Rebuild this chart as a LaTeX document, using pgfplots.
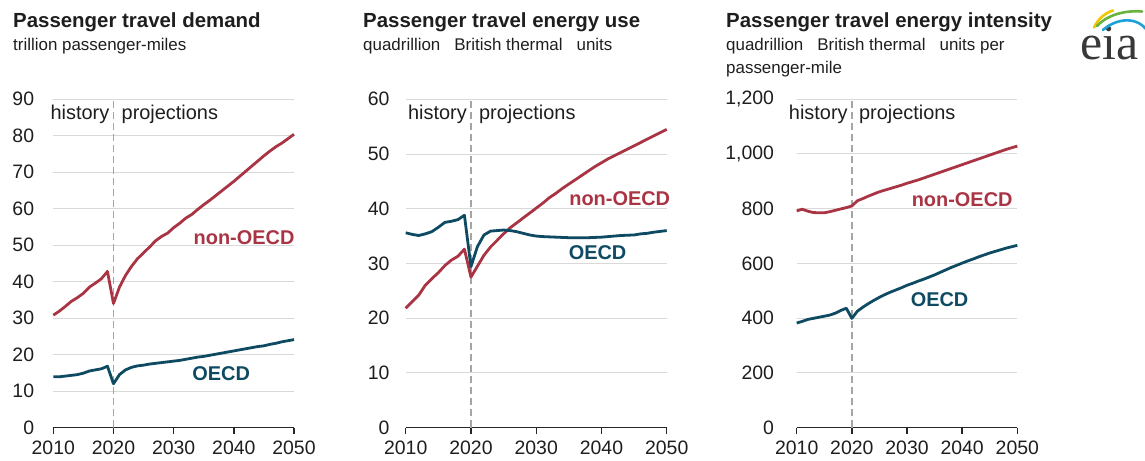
\documentclass[border=0pt]{standalone}
\usepackage{fontspec}
\setmainfont{Liberation Sans}
\newfontfamily\eiaserif{Liberation Serif}
\usepackage{pgfplots}
\pgfplotsset{compat=1.18}
\definecolor{eiared}{RGB}{169,52,68}
\definecolor{eiablue}{RGB}{14,75,98}
\definecolor{txt}{RGB}{30,30,30}
\definecolor{dashgray}{RGB}{165,165,165}
\definecolor{gridgray}{RGB}{217,217,217}

\pgfplotsset{
  eia/.style={
    scale only axis, height=328.2bp, anchor=south west,
    xmin=2010, xmax=2050, ymin=0,
    xtick={2010,2020,2030,2040,2050},
    xticklabels={2010,2020,2030,2040,2050},
    axis x line=bottom, axis y line=left,
    x axis line style={-, line width=1.4bp, draw=black!85},
    y axis line style={draw=none},
    xtick align=outside, major tick length=6bp,
    xtick style={line width=1.4bp, draw=black!85},
    ytick style={draw=none},
    ymajorgrids, grid style={line width=1bp, draw=gridgray},
    ticklabel style={font=\fontsize{19.5}{21}\selectfont, text=txt},
    xticklabel style={inner sep=0pt, anchor=north, yshift=-7bp},
    clip=false,
  },
}
\tikzset{
  redl/.style={eiared, line width=2.8bp, line join=round},
  bluel/.style={eiablue, line width=2.8bp, line join=round},
  divider/.style={dashgray, line width=1.4bp, dash pattern=on 7bp off 4bp},
  hist/.style={font=\fontsize{20}{22}\selectfont, text=txt, inner sep=0pt},
  lab/.style={font=\fontsize{20}{22}\selectfont\bfseries, inner sep=0pt},
  ttl/.style={font=\fontsize{20.5}{24}\selectfont\bfseries, text=txt, inner sep=0pt, anchor=base west},
  sub/.style={font=\fontsize{17}{20}\selectfont, text=txt, inner sep=0pt, anchor=base west},
}

\begin{document}
\begin{tikzpicture}
\path[use as bounding box] (0bp,0bp) rectangle (1145bp,461bp);

% titles
\node[ttl] at (13bp,433.3bp) {Passenger travel demand};
\node[sub] at (13bp,410bp) {trillion passenger-miles};
\node[ttl] at (363bp,433.3bp) {Passenger travel energy use};
\node[sub] at (363bp,410bp) {quadrillion\hspace{0.55em} British thermal\hspace{0.55em} units};
\node[ttl] at (726bp,433.3bp) {Passenger travel energy intensity};
\node[sub] at (726bp,410bp) {quadrillion\hspace{0.55em} British thermal\hspace{0.55em} units per};
\node[sub] at (726bp,387bp) {passenger-mile};

% logo
\node[anchor=base west, inner sep=0pt, text=black!78] at (1080bp,401bp) {\eiaserif\fontsize{50}{50}\selectfont eia};
\draw[color={rgb,255:red,242;green,197;blue,0}, line width=2.6bp, line cap=round] (1094bp,433.5bp) .. controls (1098bp,442bp) and (1105bp,448bp) .. (1113bp,450.5bp);
\draw[color={rgb,255:red,104;green,178;blue,62}, line width=2.6bp, line cap=round] (1097bp,435bp) .. controls (1106bp,445bp) and (1123bp,451bp) .. (1142bp,449.5bp);
\draw[color={rgb,255:red,29;green,161;blue,217}, line width=2.6bp, line cap=round] (1103bp,431bp) .. controls (1114bp,441bp) and (1134bp,446bp) .. (1146bp,432bp);

% ---------- Panel 1 ----------
\begin{axis}[eia, at={(53.3bp,33.5bp)}, width=240.7bp,
  ymax=90, ytick={0,10,...,90},
  yticklabels={0,10,20,30,40,50,60,70,80,90},
  yticklabel style={inner sep=0pt, anchor=east, xshift=-16bp}]
\addplot[divider] coordinates {(2020,0) (2020,90)};
\addplot[redl, no marks] coordinates {
(2010,30.8)(2011,31.9)(2012,33.2)(2013,34.6)(2014,35.6)(2015,36.8)(2016,38.5)(2017,39.6)(2018,40.8)(2019,42.8)
(2020,34.0)(2021,38.5)(2022,41.7)(2023,44.2)(2024,46.3)(2025,47.9)(2026,49.5)(2027,51.2)(2028,52.4)(2029,53.3)
(2030,54.8)(2031,56.0)(2032,57.4)(2033,58.4)(2034,59.8)(2035,61.1)(2036,62.3)(2037,63.6)(2038,64.9)(2039,66.2)
(2040,67.5)(2041,68.9)(2042,70.3)(2043,71.7)(2044,73.1)(2045,74.5)(2046,75.8)(2047,77.0)(2048,78.0)(2049,79.2)(2050,80.4)};
\addplot[bluel, no marks] coordinates {
(2010,13.9)(2011,13.9)(2012,14.1)(2013,14.3)(2014,14.5)(2015,14.9)(2016,15.5)(2017,15.8)(2018,16.1)(2019,16.8)
(2020,12.0)(2021,14.5)(2022,15.8)(2023,16.5)(2024,16.9)(2025,17.1)(2026,17.4)(2027,17.6)(2028,17.8)(2029,18.0)
(2030,18.2)(2031,18.4)(2032,18.7)(2033,19.0)(2034,19.3)(2035,19.5)(2036,19.8)(2037,20.1)(2038,20.4)(2039,20.7)
(2040,21.0)(2041,21.3)(2042,21.6)(2043,21.9)(2044,22.2)(2045,22.4)(2046,22.8)(2047,23.1)(2048,23.5)(2049,23.8)(2050,24.1)};
\node[hist, anchor=base east, xshift=-4bp] at (axis cs:2020,84.5) {history};
\node[hist, anchor=base west, xshift=8bp] at (axis cs:2020,84.5) {projections};
\node[lab, text=eiared] at (axis cs:2041.7,52.0) {non-OECD};
\node[lab, text=eiablue] at (axis cs:2037.9,14.8) {OECD};
\end{axis}

% ---------- Panel 2 ----------
\begin{axis}[eia, at={(405.7bp,33.5bp)}, width=261bp,
  ymax=60, ytick={0,10,...,60},
  yticklabels={0,10,20,30,40,50,60},
  yticklabel style={inner sep=0pt, anchor=east, xshift=-13bp}]
\addplot[divider] coordinates {(2020,0) (2020,60)};
\addplot[redl, no marks] coordinates {
(2010,21.8)(2011,23.0)(2012,24.2)(2013,26.0)(2014,27.2)(2015,28.3)(2016,29.6)(2017,30.6)(2018,31.3)(2019,32.6)
(2020,27.5)(2021,29.5)(2022,31.5)(2023,33.0)(2024,34.2)(2025,35.4)(2026,36.5)(2027,37.4)(2028,38.3)(2029,39.2)
(2030,40.1)(2031,41.0)(2032,42.0)(2033,42.8)(2034,43.7)(2035,44.5)(2036,45.3)(2037,46.1)(2038,46.9)(2039,47.7)
(2040,48.4)(2041,49.1)(2042,49.7)(2043,50.3)(2044,50.9)(2045,51.5)(2046,52.1)(2047,52.7)(2048,53.3)(2049,53.9)(2050,54.5)};
\addplot[bluel, no marks] coordinates {
(2010,35.6)(2011,35.3)(2012,35.1)(2013,35.4)(2014,35.8)(2015,36.6)(2016,37.5)(2017,37.7)(2018,38.0)(2019,38.8)
(2020,29.4)(2021,33.1)(2022,35.2)(2023,35.9)(2024,36.0)(2025,36.1)(2026,36.0)(2027,35.8)(2028,35.5)(2029,35.2)
(2030,35.0)(2031,34.9)(2032,34.85)(2033,34.8)(2034,34.75)(2035,34.7)(2036,34.7)(2037,34.7)(2038,34.7)(2039,34.75)
(2040,34.8)(2041,34.9)(2042,35.0)(2043,35.1)(2044,35.15)(2045,35.2)(2046,35.4)(2047,35.5)(2048,35.7)(2049,35.85)(2050,36.0)};
\node[hist, anchor=base east, xshift=-4bp] at (axis cs:2020,56.3) {history};
\node[hist, anchor=base west, xshift=8bp] at (axis cs:2020,56.3) {projections};
\node[lab, text=eiared] at (axis cs:2042.8,41.8) {non-OECD};
\node[lab, text=eiablue] at (axis cs:2039.4,31.9) {OECD};
\end{axis}

% ---------- Panel 3 ----------
\begin{axis}[eia, at={(796.7bp,33.5bp)}, width=220.6bp,
  ymax=1200, ytick={0,200,...,1200},
  yticklabels={0,200,400,600,800,{1,000},{1,200}},
  yticklabel style={inner sep=0pt, anchor=east, xshift=-19.5bp}]
\addplot[divider] coordinates {(2020,0) (2020,1200)};
\addplot[redl, no marks] coordinates {
(2010,792)(2011,798)(2012,791)(2013,786)(2014,785)(2015,785)(2016,789)(2017,794)(2018,799)(2019,804)
(2020,810)(2021,829)(2022,837)(2023,846)(2024,854)(2025,862)(2026,868)(2027,874)(2028,880)(2029,886)
(2030,893)(2031,899)(2032,905)(2033,912)(2034,919)(2035,926)(2036,933)(2037,940)(2038,947)(2039,954)
(2040,961)(2041,968)(2042,975)(2043,982)(2044,989)(2045,996)(2046,1003)(2047,1010)(2048,1017)(2049,1023)(2050,1029)};
\addplot[bluel, no marks] coordinates {
(2010,382)(2011,388)(2012,395)(2013,399)(2014,403)(2015,407)(2016,411)(2017,418)(2018,428)(2019,436)
(2020,399)(2021,425)(2022,440)(2023,453)(2024,465)(2025,476)(2026,486)(2027,495)(2028,503)(2029,511)
(2030,520)(2031,527)(2032,535)(2033,542)(2034,550)(2035,558)(2036,567)(2037,576)(2038,585)(2039,593)
(2040,601)(2041,609)(2042,616)(2043,624)(2044,631)(2045,638)(2046,644)(2047,650)(2048,656)(2049,661)(2050,666)};
\node[hist, anchor=base east, xshift=-4bp] at (axis cs:2020,1126) {history};
\node[hist, anchor=base west, xshift=7bp] at (axis cs:2020,1126) {projections};
\node[lab, text=eiared] at (axis cs:2040.0,832) {non-OECD};
\node[lab, text=eiablue] at (axis cs:2035.9,466) {OECD};
\end{axis}
\end{tikzpicture}
\end{document}
